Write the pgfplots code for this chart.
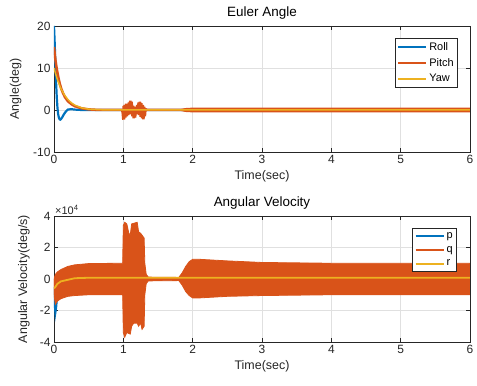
\documentclass[border=0pt]{standalone}
\usepackage{fontspec}
\setmainfont{Liberation Sans}
\usepackage{pgfplots}
\pgfplotsset{compat=1.18}
\definecolor{mblue}{rgb}{0,0.447,0.741}
\definecolor{morange}{rgb}{0.85,0.325,0.098}
\definecolor{myellow}{rgb}{0.929,0.694,0.125}
\definecolor{maxis}{rgb}{0.15,0.15,0.15}
\pgfplotsset{mstyle/.style={
  scale only axis, width=416bp, height=126bp,
  xmin=0, xmax=6, xtick={0,1,2,3,4,5,6},
  grid=major, major grid style={black!12, line width=0.5bp},
  axis line style={maxis, line width=0.6bp},
  tick style={maxis, line width=0.6bp},
  major tick length=4bp,
  tick align=inside, xtick pos=both, ytick pos=both,
  /pgf/number format/assume math mode=true,
  tick label style={font=\fontsize{12}{13}\selectfont, text=maxis},
  xlabel style={font=\fontsize{12.5}{14}\selectfont, text=maxis},
  ylabel style={font=\fontsize{12.5}{14}\selectfont, text=maxis},
  title style={font=\fontsize{13.5}{15}\selectfont, text=black, yshift=-3bp},
  xlabel={Time(sec)},
  clip mode=individual,
  legend cell align=left,
  legend style={font=\fontsize{11}{12}\selectfont, draw=maxis, fill=white,
    line width=0.6bp, inner sep=2bp, row sep=2.5bp, anchor=north east},
  legend image code/.code={\draw[#1] (0bp,0bp) -- (28bp,0bp);},
}}
\begin{document}
\begin{tikzpicture}
\useasboundingbox (-54bp,-234bp) rectangle (423bp,152bp);
% ---------------- top: Euler Angle ----------------
\begin{axis}[mstyle, at={(0,0)}, anchor=south west,
  title={Euler Angle},
  ymin=-10, ymax=20, ytick={-10,0,10,20},
  ylabel={Angle(deg)},
  ylabel style={at={(axis description cs:-0.07,0.5)}, anchor=south},
  legend style={at={(axis description cs:0.971,0.905)}},
]
\addlegendimage{mblue, line width=2.2bp}
\addlegendimage{morange, line width=2.2bp}
\addlegendimage{myellow, line width=2.2bp}
\legend{Roll,Pitch,Yaw}
% Roll
\addplot[mblue, line width=2.2bp, forget plot] coordinates {
(0,20)(0.01,16)(0.02,11)(0.03,6.5)(0.04,3)(0.05,0.5)(0.06,-1)(0.07,-1.8)
(0.08,-2.2)(0.09,-2.3)(0.1,-2.2)(0.12,-1.7)(0.14,-1.1)(0.16,-0.6)(0.18,-0.2)
(0.2,0.1)(0.25,0.2)(0.3,0.1)(0.4,0)(6,0)};
% Pitch
\addplot[morange, line width=2.5bp, forget plot] coordinates {
(0,15)(0.02,12)(0.04,9.8)(0.06,8)(0.08,6.5)(0.1,5.3)(0.13,4)(0.16,3)(0.2,2.1)
(0.25,1.4)(0.3,0.9)(0.4,0.4)(0.5,0.15)(0.6,0.05)(0.98,0)
(0.99,-0.5)(1.0,-2.3)(1.005,1.0)(1.01,-2.2)(1.02,1.2)(1.03,-1.8)(1.04,1.5)
(1.05,-1.5)(1.06,1.0)(1.07,-1.2)(1.08,1.8)(1.09,-1.0)(1.10,2.2)(1.11,-0.8)
(1.12,2.0)(1.13,-1.5)(1.14,1.0)(1.15,-2.0)(1.16,0.8)(1.17,-1.8)(1.18,0.5)
(1.19,-1.0)(1.20,1.2)(1.21,-0.8)(1.22,1.8)(1.23,-1.2)(1.24,2.0)(1.25,-1.6)
(1.26,1.6)(1.27,-2.0)(1.28,1.2)(1.29,-2.2)(1.30,0.8)(1.31,-1.5)(1.32,0.2)
(1.35,0)(6,0)};
\addplot[morange, fill=morange, line width=1bp, forget plot] coordinates {
(1.8,0)(1.9,0.35)(2.0,0.45)(6,0.45)(6,-0.45)(2.0,-0.45)(1.9,-0.35)(1.8,0)} -- cycle;
% Yaw
\addplot[myellow, line width=1.5bp, forget plot] coordinates {
(0,10)(0.02,8.8)(0.05,7.2)(0.08,5.9)(0.1,5.1)(0.15,3.6)(0.2,2.5)(0.25,1.7)
(0.3,1.15)(0.4,0.5)(0.5,0.2)(0.7,0.05)(1.0,0)(6,0)};
\end{axis}
% ---------------- bottom: Angular Velocity ----------------
\begin{axis}[mstyle, at={(0,-190bp)}, anchor=south west,
  title={Angular Velocity},
  ymin=-4, ymax=4, ytick={-4,-2,0,2,4},
  ylabel={Angular Velocity(deg/s)},
  ylabel style={at={(axis description cs:-0.05,0.5)}, anchor=south},
  legend style={at={(axis description cs:0.969,0.905)}},
]
\addlegendimage{mblue, line width=2.2bp}
\addlegendimage{morange, line width=2.2bp}
\addlegendimage{myellow, line width=2.2bp}
\legend{p,q,r}
% p (values in units of 10^4)
\addplot[mblue, line width=2.2bp, forget plot] coordinates {
(0,-0.5)(0.01,-1.5)(0.02,-2.1)(0.03,-1.8)(0.05,-0.8)(0.1,-0.2)(0.2,0)(6,0)};
% q envelope
\addplot[morange, fill=morange, line width=0.8bp, forget plot] coordinates {
(0,0)(0.02,0.3)(0.05,0.45)(0.1,0.6)(0.2,0.8)(0.3,0.9)(0.5,0.98)(0.99,1.0)
(1.0,3.4)(1.02,3.6)(1.05,3.5)(1.08,2.9)(1.1,2.8)(1.12,3.5)(1.2,3.6)(1.22,3.0)
(1.25,2.9)(1.3,2.6)(1.31,1.0)(1.33,0.3)(1.36,0.12)(1.8,0.1)(1.85,0.4)(1.9,0.8)
(1.95,1.1)(2.0,1.25)(2.1,1.25)(2.5,1.15)(3,1.05)(4,1.0)(5,1.0)(6,1.0)
(6,-1.0)(5,-1.0)(4,-1.0)(3,-1.05)(2.5,-1.1)(2.1,-1.2)(2.0,-1.2)(1.95,-1.05)
(1.9,-0.8)(1.85,-0.4)(1.8,-0.1)(1.36,-0.12)(1.33,-0.3)(1.31,-1.0)(1.3,-3.0)
(1.27,-3.2)(1.25,-2.8)(1.22,-3.0)(1.2,-2.8)(1.15,-2.8)(1.12,-3.0)(1.1,-3.5)
(1.05,-3.4)(1.02,-3.7)(1.0,-3.4)(0.99,-1.0)(0.5,-1.0)(0.3,-1.05)(0.2,-1.1)
(0.1,-1.25)(0.05,-1.4)(0.02,-1.6)(0,-1.0)} -- cycle;
% r
\addplot[myellow, line width=1.8bp, forget plot] coordinates {
(0,-0.6)(0.02,-0.5)(0.05,-0.3)(0.1,-0.15)(0.2,-0.05)(0.3,0.05)(0.5,0.08)(6,0.08)};
\node[anchor=south west, font=\fontsize{11}{12}\selectfont, text=maxis, inner sep=1bp]
  at (rel axis cs:0,1) {×10\textsuperscript{4}};
\end{axis}
\end{tikzpicture}
\end{document}
